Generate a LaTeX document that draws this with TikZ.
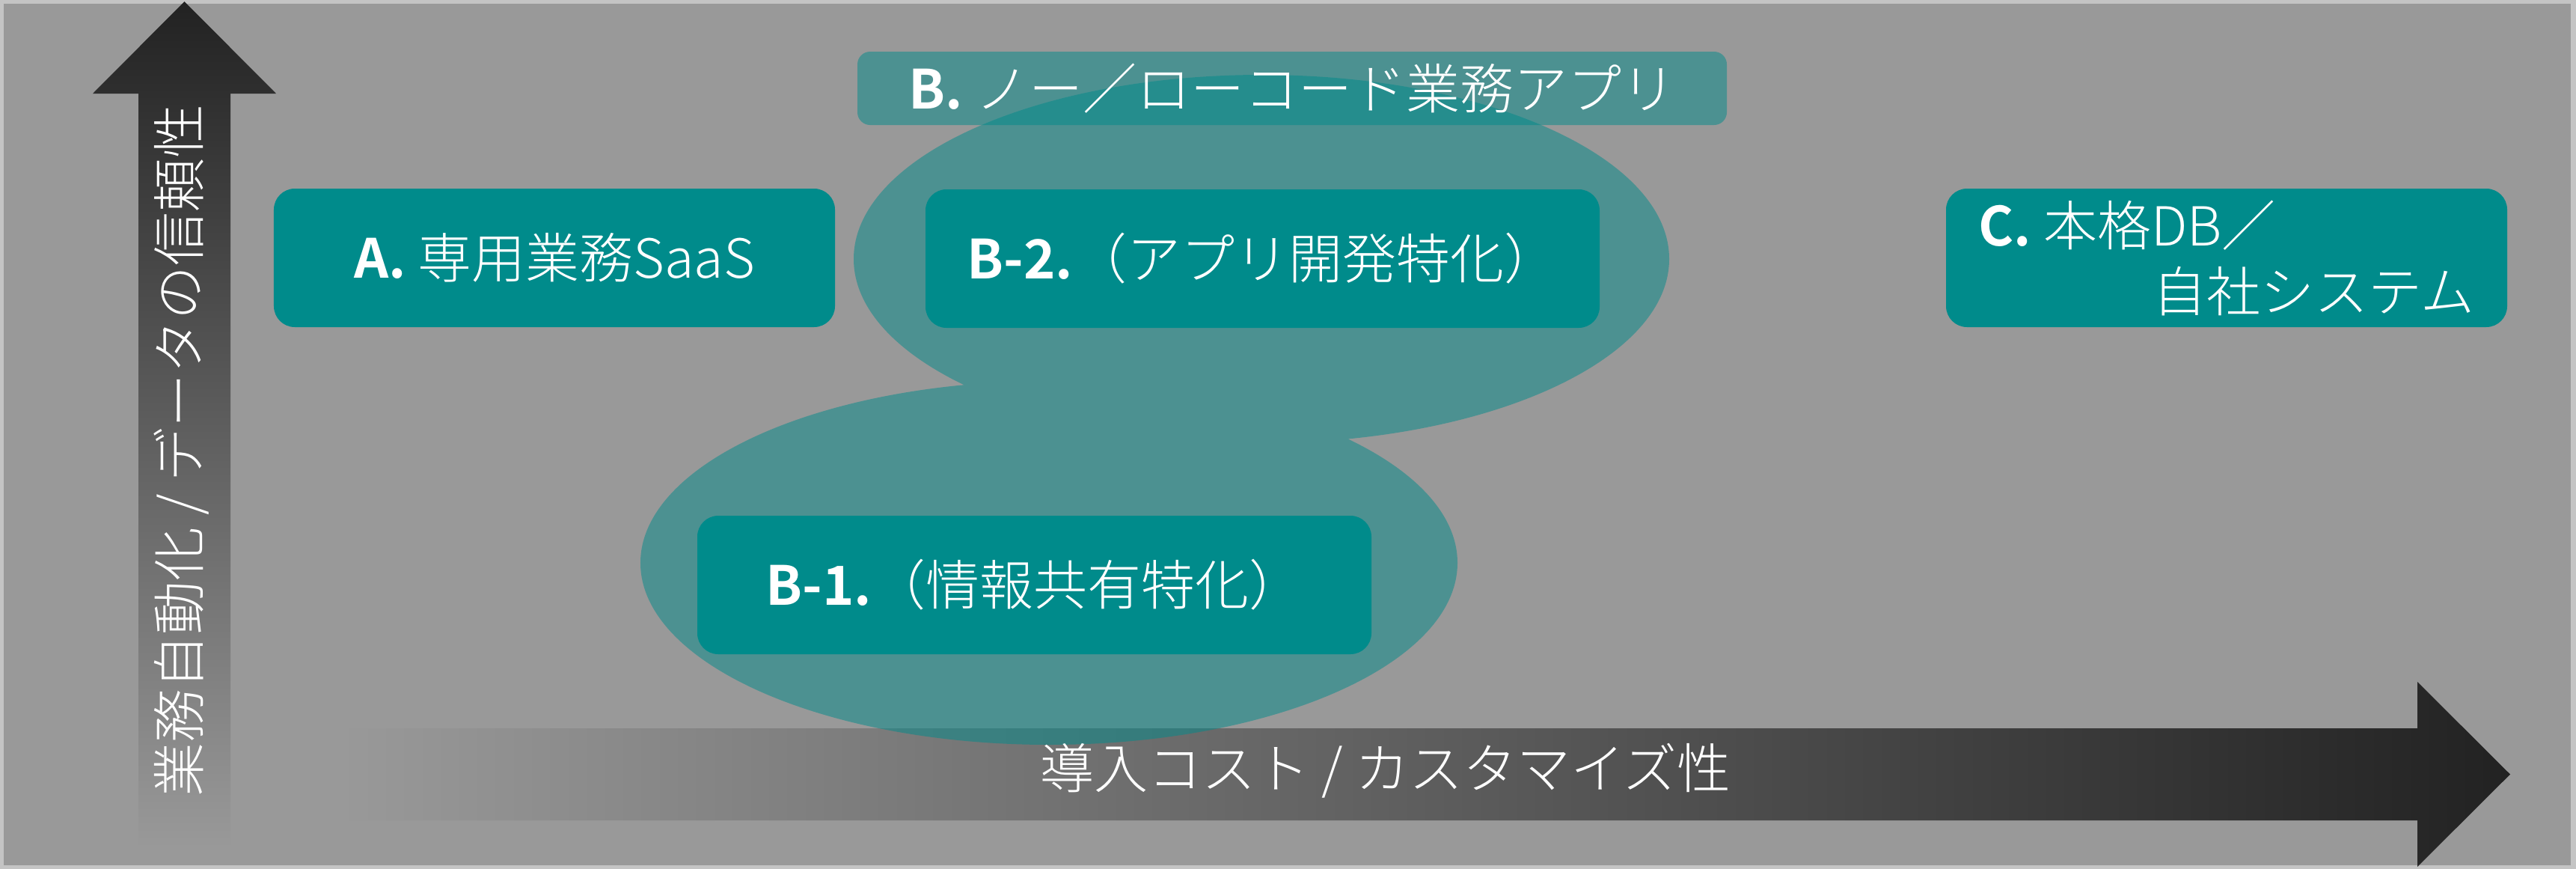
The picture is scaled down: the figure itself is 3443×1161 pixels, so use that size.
\documentclass[tikz,border=0pt]{standalone}
\usepackage{fontspec}
\setmainfont{Noto Sans CJK JP}[UprightFont={* Light}, BoldFont={* Bold}]
\definecolor{bggray}{HTML}{999999}
\definecolor{framegray}{HTML}{C4C4C4}
\definecolor{arrowdark}{HTML}{222222}
\definecolor{tealbox}{HTML}{008B8B}
\begin{document}
\begin{tikzpicture}[x=0.2pt,y=-0.2pt,
  txt/.style={text=white, font=\fontsize{14.4}{17.6}\selectfont, inner sep=0pt},
  box/.style={txt, fill=tealbox, rounded corners=5.6pt, minimum height=37pt},
  widebox/.style={box, minimum width=180.2pt},
  narrowbox/.style={box, minimum width=150pt},
  headbox/.style={txt, fill=tealbox, fill opacity=0.5, text opacity=1, rounded corners=3.4pt,
                  minimum width=232.4pt, minimum height=19.6pt},
  blob/.style={fill=tealbox, opacity=0.5}
]
\useasboundingbox (0,0) rectangle (3443,1161);
% background and frame
\fill[framegray] (0,0) rectangle (3443,1161);
\fill[bggray] (5,5) rectangle (3436,1156);
% vertical axis arrow
\shade[top color=arrowdark, bottom color=bggray]
  (185,1133) -- (185,125) -- (124,125) -- (246.5,2) -- (369,125) -- (308,125) -- (308,1133) -- cycle;
% horizontal axis arrow
\shade[left color=bggray, right color=arrowdark]
  (455,973) -- (3231,973) -- (3231,911) -- (3355,1034.5) -- (3231,1158) -- (3231,1096) -- (455,1096) -- cycle;
% group B area (union of two ellipses)
\fill[blob] (1686,346) ellipse [x radius=109pt, y radius=49.2pt]
            (1402,752) ellipse [x radius=109.2pt, y radius=48.6pt];
% header of group B
\node[headbox] (B) at (1727,118) {\textbf{B.} ノー／ローコード業務アプリ};
% boxes
\node[narrowbox] (A) at (741,344.5) {\textbf{A.} 専用業務SaaS};
\node[widebox] (B2) at (1687.5,345.5) {\textbf{B-2.}（アプリ開発特化）};
\node[widebox] (B1) at (1382.5,781.5) {\textbf{B-1.}（情報共有特化）};
\node[narrowbox, align=center] (C) at (2976,344.5)
  {\makebox[132.6pt][l]{\textbf{C.} 本格DB／}\\\makebox[132.6pt][r]{自社システム}};
% axis labels
\node[txt, rotate=90] (ylabel) at (243,602) {業務自動化 / データの信頼性};
\node[txt] (xlabel) at (1852,1030) {導入コスト / カスタマイズ性};
\end{tikzpicture}
\end{document}
